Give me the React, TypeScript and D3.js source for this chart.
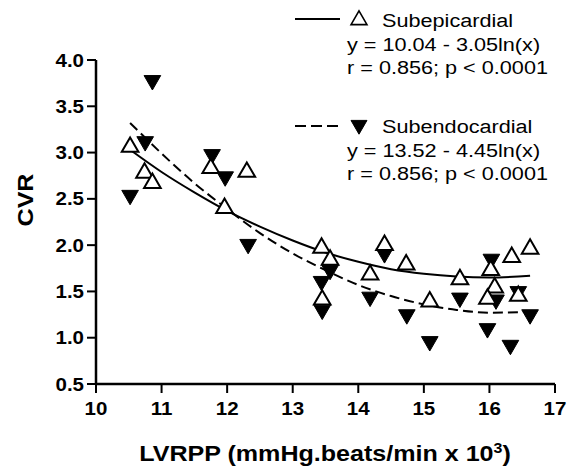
import React from "react";
import * as d3 from "d3";

// Subepicardial (open up-triangles)
const epiX = [10.52, 10.74, 10.86, 11.75, 12.30, 11.96, 13.44, 13.57, 13.45, 14.40, 14.18, 14.73, 15.09, 15.55, 16.02, 16.08, 15.97, 16.34, 16.62, 16.44];
const epiY = [3.06, 2.78, 2.67, 2.83, 2.79, 2.40, 1.97, 1.84, 1.41, 2.00, 1.68, 1.79, 1.39, 1.63, 1.73, 1.54, 1.42, 1.87, 1.96, 1.45];
// Subendocardial (filled down-triangles)
const endoX = [10.86, 10.75, 10.52, 11.77, 11.97, 12.32, 13.57, 13.44, 13.45, 14.40, 14.18, 14.74, 15.09, 15.55, 16.03, 16.10, 15.97, 16.32, 16.62, 16.44];
const endoY = [3.78, 3.12, 2.54, 2.98, 2.74, 2.01, 1.73, 1.61, 1.30, 1.91, 1.44, 1.25, 0.96, 1.43, 1.85, 1.41, 1.10, 0.92, 1.25, 1.50];

// fitted curves
const fitX = [10.52, 11, 11.5, 12, 12.5, 13, 13.5, 14, 14.5, 15, 15.5, 16, 16.62];
const epiFitY = [3.03, 2.79, 2.57, 2.37, 2.20, 2.05, 1.92, 1.82, 1.74, 1.69, 1.66, 1.65, 1.67];
const endoFitY = [3.32, 2.99, 2.67, 2.39, 2.13, 1.91, 1.73, 1.57, 1.45, 1.36, 1.30, 1.27, 1.28];

const xTicks = [10, 11, 12, 13, 14, 15, 16, 17];
const yTicks = [0.5, 1.0, 1.5, 2.0, 2.5, 3.0, 3.5, 4.0];

const legendEpi = ["Subepicardial", "y = 10.04 - 3.05ln(x)", "r = 0.856; p < 0.0001"];
const legendEndo = ["Subendocardial", "y = 13.52 - 4.45ln(x)", "r = 0.856; p < 0.0001"];

const FONT = "'Liberation Sans', Arial, Helvetica, sans-serif";
const SX = 1.14;

function T(props: { x: number; y: number; size: number; bold?: boolean; anchor?: string; rotate?: number; children: React.ReactNode }) {
  const { x, y, size, bold, anchor, rotate, children } = props;
  const tr = rotate ? `translate(${x},${y}) rotate(${rotate}) scale(${SX},1)` : `translate(${x},${y}) scale(${SX},1)`;
  return (
    <text transform={tr} fontFamily={FONT} fontSize={size} fontWeight={bold ? "bold" : "normal"} textAnchor={anchor || "start"} fill="#000">
      {children}
    </text>
  );
}

export default function App() {
  const W = 570, H = 470;
  const x = d3.scaleLinear().domain([10, 17]).range([96, 555]);
  const y = d3.scaleLinear().domain([0.5, 4.0]).range([384, 60]);
  const up = d3.symbol(d3.symbolTriangle, 120)() as string;
  const upLeg = d3.symbol(d3.symbolTriangle, 110)() as string;
  const line = d3.line<number>().x((d) => x(d)).curve(d3.curveMonotoneX);
  const epiPath = d3.line<number>().x((d) => x(d)).y((_, i) => y(epiFitY[i])).curve(d3.curveMonotoneX)(fitX) as string;
  const endoPath = d3.line<number>().x((d) => x(d)).y((_, i) => y(endoFitY[i])).curve(d3.curveMonotoneX)(fitX) as string;
  void line;
  const x0 = x(10), yb = y(0.5);

  return (
    <svg width={W} height={H} style={{ position: "absolute", left: 0, top: 0, background: "#fff" }}>
      <rect width={W} height={H} fill="#fff" />
      {/* fit curves */}
      <path d={epiPath} fill="none" stroke="#000" strokeWidth={2} />
      <path d={endoPath} fill="none" stroke="#000" strokeWidth={2} strokeDasharray="10,5" />
      {/* markers */}
      {endoX.map((v, i) => (
        <path key={"e" + i} d={up} transform={`translate(${x(v)},${y(endoY[i])}) rotate(180)`} fill="#000" stroke="#000" strokeWidth={1} />
      ))}
      {epiX.map((v, i) => (
        <path key={"p" + i} d={up} transform={`translate(${x(v)},${y(epiY[i])})`} fill="#fff" stroke="#000" strokeWidth={2} />
      ))}
      {/* axes */}
      <line x1={x0} x2={x0} y1={y(4.0)} y2={yb} stroke="#000" strokeWidth={2.5} />
      <line x1={x0} x2={x(17)} y1={yb} y2={yb} stroke="#000" strokeWidth={2.5} />
      {yTicks.map((t) => (
        <g key={"yt" + t}>
          <line x1={x0 - 9} x2={x0} y1={y(t)} y2={y(t)} stroke="#000" strokeWidth={2} />
          <T x={x0 - 12} y={y(t) + 6.5} size={18} bold anchor="end">{d3.format(".1f")(t)}</T>
        </g>
      ))}
      {xTicks.map((t) => (
        <g key={"xt" + t}>
          <line x1={x(t)} x2={x(t)} y1={yb} y2={yb + 9} stroke="#000" strokeWidth={2} />
          <T x={x(t)} y={yb + 31} size={18} bold anchor="middle">{String(t)}</T>
        </g>
      ))}
      {/* axis titles */}
      <T x={325} y={461} size={22} bold anchor="middle">
        LVRPP (mmHg.beats/min x 10<tspan dy={-8} fontSize={14}>3</tspan><tspan dy={8}>)</tspan>
      </T>
      <T x={33} y={200} size={22} bold anchor="middle" rotate={-90}>CVR</T>
      {/* legend */}
      <line x1={295} x2={340} y1={19} y2={19} stroke="#000" strokeWidth={2} />
      <path d={upLeg} transform="translate(359,20)" fill="#fff" stroke="#000" strokeWidth={1.6} />
      <T x={382} y={27} size={19}>{legendEpi[0]}</T>
      <T x={347} y={51} size={19}>{legendEpi[1]}</T>
      <T x={347} y={74} size={19}>{legendEpi[2]}</T>
      <line x1={295} x2={340} y1={126} y2={126} stroke="#000" strokeWidth={2} strokeDasharray="11,5" />
      <path d={upLeg} transform="translate(359,125) rotate(180)" fill="#000" stroke="#000" strokeWidth={1} />
      <T x={382} y={133} size={19}>{legendEndo[0]}</T>
      <T x={347} y={157} size={19}>{legendEndo[1]}</T>
      <T x={347} y={180} size={19}>{legendEndo[2]}</T>
    </svg>
  );
}
